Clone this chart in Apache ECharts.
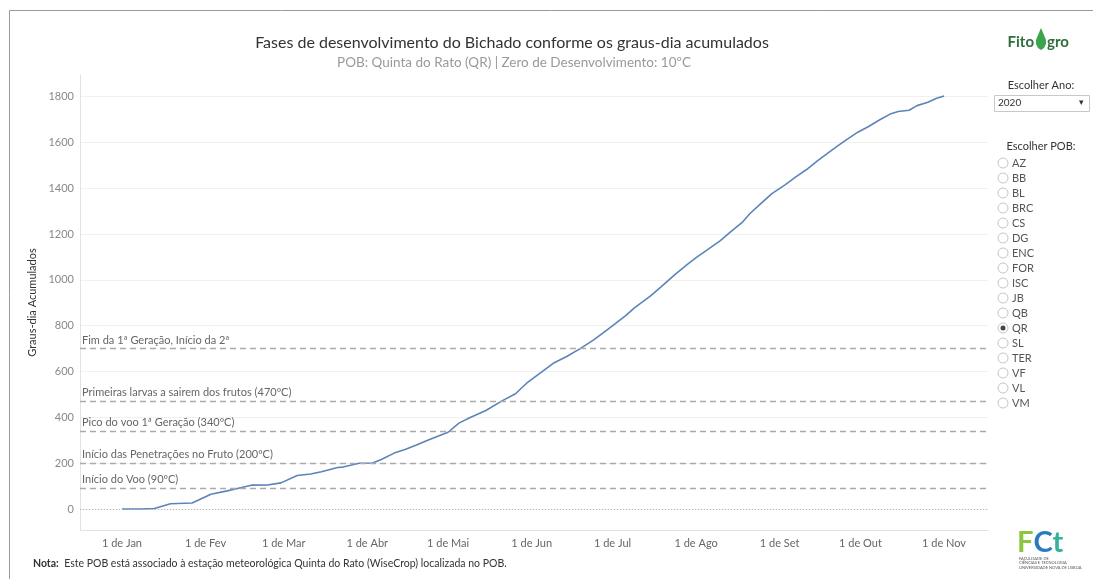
<!DOCTYPE html>
<html><head><meta charset="utf-8">
<script src="https://cdn.jsdelivr.net/npm/echarts@6/dist/echarts.min.js"></script>
<style>html,body{margin:0;padding:0;background:#fff}#c{width:1093px;height:579px}</style>
</head><body><div id="c"></div>
<script>
// Dates (2020) and accumulated degree-days
const dates = ['2020-01-01','2020-01-08','2020-01-13','2020-01-19','2020-01-27','2020-02-03','2020-02-09','2020-02-14','2020-02-18','2020-02-24','2020-02-29','2020-03-06','2020-03-11','2020-03-15','2020-03-21','2020-03-23','2020-03-29','2020-04-03','2020-04-06','2020-04-11','2020-04-15','2020-04-19','2020-04-23','2020-04-26','2020-05-01','2020-05-05','2020-05-09','2020-05-15','2020-05-21','2020-05-26','2020-05-30','2020-06-04','2020-06-09','2020-06-14','2020-06-19','2020-06-24','2020-06-29','2020-07-06','2020-07-09','2020-07-15','2020-07-19','2020-07-24','2020-07-29','2020-08-01','2020-08-05','2020-08-10','2020-08-14','2020-08-18','2020-08-21','2020-08-25','2020-08-29','2020-09-03','2020-09-07','2020-09-11','2020-09-15','2020-09-19','2020-09-22','2020-09-26','2020-09-30','2020-10-04','2020-10-08','2020-10-12','2020-10-15','2020-10-19','2020-10-22','2020-10-26','2020-10-29','2020-11-01'];
const grausDia = [0,0,2,23,26,64,79,93,104,105,114,146,153,163,181,183,200,201,215,244,260,278,298,312,335,375,398,430,472,503,548,592,636,666,700,738,782,845,877,929,970,1022,1070,1097,1130,1172,1212,1250,1290,1333,1376,1415,1450,1482,1520,1555,1581,1614,1645,1670,1698,1724,1735,1741,1761,1776,1792,1803];
const monthTicks = ['2020-01-01','2020-02-01','2020-03-01','2020-04-01','2020-05-01','2020-06-01','2020-07-01','2020-08-01','2020-09-01','2020-10-01','2020-11-01'];
const monthLabels = ['1 de Jan','1 de Fev','1 de Mar','1 de Abr','1 de Mai','1 de Jun','1 de Jul','1 de Ago','1 de Set','1 de Out','1 de Nov'];
const yTicks = [0,200,400,600,800,1000,1200,1400,1600,1800];
const phaseValues = [90,200,340,470,700];
const phaseLabels = ['Início do Voo (90ºC)','Início das Penetrações no Fruto (200ºC)','Pico do voo 1ª Geração (340ºC)','Primeiras larvas a sairem dos frutos (470ºC)','Fim da 1ª Geração, Início da 2ª'];
const pobList = ['AZ','BB','BL','BRC','CS','DG','ENC','FOR','ISC','JB','QB','QR','SL','TER','VF','VL','VM'];
const selectedPob = 'QR';
const selectedYear = '2020';

const T0 = Date.UTC(2020,0,1);
const dayOf = s => { const p = s.split('-'); return (Date.UTC(+p[0],+p[1]-1,+p[2]) - T0)/86400000; };
const tickDays = monthTicks.map(dayOf);
const labelMap = {}; tickDays.forEach((d,i)=>labelMap[d]=monthLabels[i]);
const seriesData = dates.map((d,i)=>[dayOf(d), grausDia[i]]);

const FONT = 'Lato';
const chart = echarts.init(document.getElementById('c'));

const graphics = [];
graphics.push({type:'rect', silent:true, shape:{x:9.5,y:10.5,width:1100,height:600}, style:{fill:'none', stroke:'#9a9a9a', lineWidth:1}});
// logo
graphics.push({type:'text', x:1034, y:35, style:{text:'Fito', font:'bold 15px '+FONT, fill:'#2f6f3a', align:'right'}});
graphics.push({type:'polygon', shape:{points:[[1041,28],[1044,35],[1046,40],[1046,44],[1044,48],[1041,50],[1038,48],[1036,44],[1036,40],[1038,35]]}, style:{fill:'#3aa54a'}});
graphics.push({type:'text', x:1047, y:35, style:{text:'gro', font:'bold 15px '+FONT, fill:'#2f6f3a'}});
// year selector
graphics.push({type:'text', x:1041, y:80, style:{text:'Escolher Ano:', font:'11px '+FONT, fill:'#333', align:'center'}});
graphics.push({type:'rect', shape:{x:994.5,y:95.5,width:95,height:16}, style:{fill:'#fff', stroke:'#c8c8c8'}});
graphics.push({type:'text', x:998, y:98, style:{text:selectedYear, font:'10px '+FONT, fill:'#333'}});
graphics.push({type:'text', x:1079, y:98, style:{text:'▾', font:'9px '+FONT, fill:'#333'}});
graphics.push({type:'text', x:1041, y:141, style:{text:'Escolher POB:', font:'11px '+FONT, fill:'#333', align:'center'}});
pobList.forEach((p,i)=>{
  const cy = 163 + i*15;
  graphics.push({type:'circle', shape:{cx:1003, cy:cy, r:5}, style:{fill:'#fff', stroke:'#c4c4c4', lineWidth:1}});
  if (p===selectedPob) graphics.push({type:'circle', shape:{cx:1003, cy:cy, r:2.5}, style:{fill:'#444'}});
  graphics.push({type:'text', x:1012, y:cy+0.5, style:{text:p, font:'11px '+FONT, fill:'#555', verticalAlign:'middle'}});
});
// note
graphics.push({type:'text', x:33, y:558, style:{text:'{b|Nota:}  Este POB está associado à estação meteorológica Quinta do Rato (WiseCrop) localizada no POB.', font:'10.5px '+FONT, fill:'#333', rich:{b:{font:'bold 10.5px '+FONT, fill:'#333'}}}});
// FCT logo
graphics.push({type:'text', x:1017, y:528, style:{text:'{f|F}{c|C}{t|t}', rich:{f:{font:'bold 29px '+FONT, fill:'#8cc63f'}, c:{font:'bold 29px '+FONT, fill:'#2b7bc0'}, t:{font:'bold 29px '+FONT, fill:'#33b39a'}}}});
graphics.push({type:'text', x:1019, y:556, style:{text:'FACULDADE DE\nCIÊNCIAS E TECNOLOGIA\nUNIVERSIDADE NOVA DE LISBOA', font:'4px '+FONT, fill:'#555', lineHeight:4.5}});

const markData = phaseValues.map((v,i)=>({yAxis:v, label:{formatter:phaseLabels[i]}}));
markData.push({yAxis:0, lineStyle:{type:[1,2], color:'#b5b5b5', width:1}, label:{show:false}});

chart.setOption({
  animation:false,
  textStyle:{fontFamily:FONT},
  title:[
    {text:'Fases de desenvolvimento do Bichado conforme os graus-dia acumulados', left:507, top:30, textAlign:'center', textStyle:{fontSize:16, fontWeight:'normal', color:'#333', fontFamily:FONT}},
    {text:'POB: Quinta do Rato (QR) | Zero de Desenvolvimento: 10ºC', left:509, top:51, textAlign:'center', textStyle:{fontSize:13.5, fontWeight:'normal', color:'#999', fontFamily:FONT}}
  ],
  grid:{left:80, right:105, top:75, bottom:49, containLabel:false},
  xAxis:{
    type:'value', min:-15.58, max:321.3,
    axisLine:{show:true, onZero:false, lineStyle:{color:'#e2e2e2'}},
    axisTick:{show:false, customValues:tickDays},
    splitLine:{show:false},
    axisLabel:{customValues:tickDays, formatter:v=>labelMap[v]||'', color:'#666', fontSize:11, margin:8, fontFamily:FONT}
  },
  yAxis:{
    type:'value', min:-91.7, max:1894.7,
    name:'Graus-dia Acumulados', nameLocation:'middle', nameGap:37,
    nameTextStyle:{color:'#333', fontSize:11, fontFamily:FONT},
    axisLine:{show:true, onZero:false, lineStyle:{color:'#e2e2e2'}},
    axisTick:{show:false, customValues:yTicks},
    axisLabel:{customValues:yTicks, formatter:v=>String(v), color:'#888', fontSize:11, margin:6, fontFamily:FONT},
    splitLine:{show:true, lineStyle:{color:'#f0f0f0', width:1}}
  },
  series:[{
    type:'line', data:seriesData, showSymbol:false, symbol:'none',
    lineStyle:{color:'#5b84b8', width:1.6}, z:3,
    markLine:{
      silent:true, symbol:'none', animation:false,
      lineStyle:{type:[6,4], color:'#ababab', width:1.3},
      label:{position:'insideStartTop', color:'#666', fontSize:11, fontFamily:FONT, distance:[2,3]},
      data:markData
    }
  }],
  graphic:graphics
});
</script></body></html>
